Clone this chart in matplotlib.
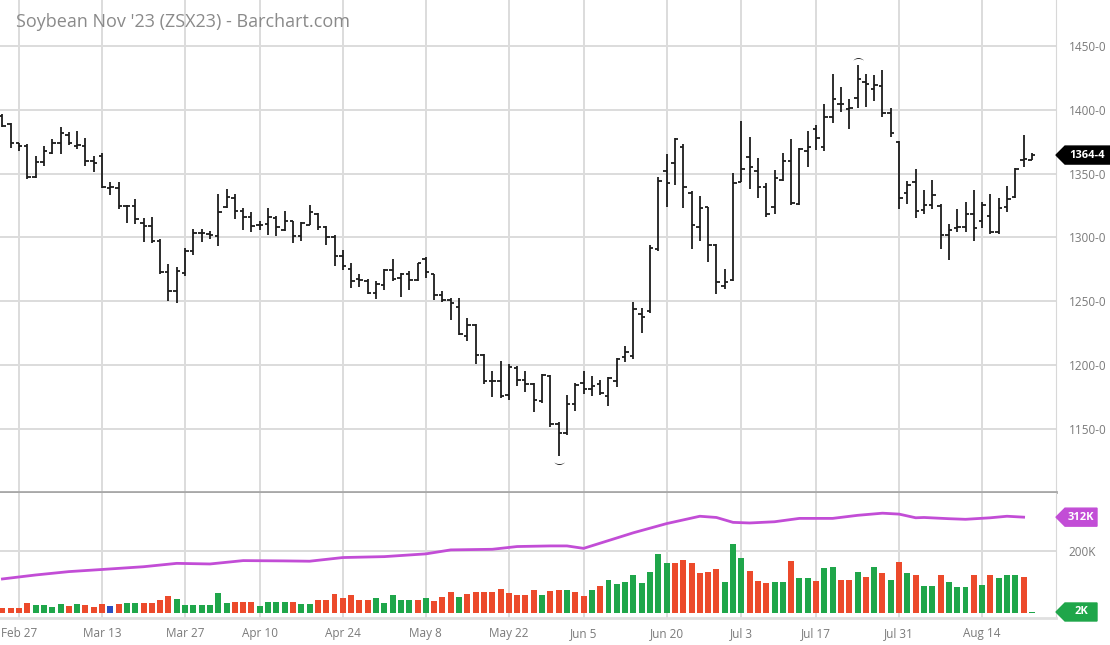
import matplotlib.pyplot as plt
from matplotlib.patches import Polygon
import pandas as pd
import numpy as np

plt.rcParams['font.family'] = ['Open Sans', 'DejaVu Sans']

# trading days, Feb 23 - Aug 22 2023 (exchange holidays removed)
holidays = ['2023-04-07', '2023-05-29', '2023-06-19', '2023-07-04']
days = pd.bdate_range('2023-02-23', '2023-08-22')
days = days[~days.isin(pd.to_datetime(holidays))]

tick_dates = ['2023-02-27', '2023-03-13', '2023-03-27', '2023-04-10', '2023-04-24', '2023-05-08',
              '2023-05-22', '2023-06-05', '2023-06-20', '2023-07-03', '2023-07-17', '2023-07-31',
              '2023-08-14']
tick_labels = ['Feb 27', 'Mar 13', 'Mar 27', 'Apr 10', 'Apr 24', 'May 8', 'May 22', 'Jun 5',
               'Jun 20', 'Jul 3', 'Jul 17', 'Jul 31', 'Aug 14']

opens = [1395.3, 1388.7, 1374.3, 1371.7, 1347.4, 1359.4, 1366.5, 1374.3, 1380.1, 1371.7,
         1371.7, 1360.0, 1363.9, 1339.0, 1339.0, 1324.6, 1324.6, 1311.5, 1308.9, 1297.1,
         1272.8, 1257.8, 1272.2, 1289.3, 1303.1, 1302.6, 1300.8, 1323.7, 1331.2, 1320.3,
         1315.6, 1309.4, 1310.4, 1315.1, 1306.0, 1312.5, 1300.8, 1309.9, 1318.2, 1307.8,
         1300.5, 1285.7, 1275.5, 1267.7, 1266.1, 1256.5, 1263.0, 1274.7, 1268.2, 1271.4,
         1266.4, 1283.0, 1271.6, 1255.2, 1250.8, 1245.6, 1222.7, 1231.0, 1207.6, 1187.5,
         1187.5, 1176.3, 1198.0, 1188.3, 1185.0, 1171.9, 1191.4, 1153.7, 1146.6, 1169.3,
         1186.2, 1181.5, 1184.9, 1175.8, 1187.5, 1206.0, 1207.0, 1240.0, 1242.0, 1291.0,
         1352.0, 1358.0, 1371.0, 1335.0, 1308.0, 1324.0, 1294.0, 1262.0, 1266.5, 1343.5,
         1363.3, 1352.3, 1339.7, 1323.6, 1344.7, 1360.0, 1326.0, 1368.0, 1384.7, 1370.6,
         1394.6, 1404.3, 1400.6, 1409.5, 1421.5, 1416.3, 1418.6, 1397.3, 1374.5, 1334.5,
         1343.7, 1321.7, 1325.5, 1324.7, 1302.0, 1307.1, 1308.5, 1318.5, 1312.9, 1317.0,
         1304.5, 1324.0, 1331.5, 1361.0, 1361.0]
highs = [1396.6, 1389.5, 1374.3, 1373.0, 1363.9, 1371.7, 1377.0, 1386.1, 1382.2, 1383.5,
         1377.5, 1363.9, 1366.0, 1343.4, 1343.4, 1325.1, 1329.8, 1315.4, 1316.2, 1298.9,
         1278.8, 1276.7, 1291.9, 1306.8, 1306.3, 1304.7, 1333.9, 1338.0, 1333.9, 1322.9,
         1319.8, 1312.5, 1322.9, 1316.4, 1320.8, 1313.0, 1312.0, 1325.0, 1319.0, 1308.6,
         1301.6, 1290.4, 1280.0, 1271.4, 1267.7, 1266.1, 1275.5, 1283.3, 1272.1, 1273.4,
         1280.0, 1285.0, 1271.6, 1257.8, 1252.6, 1252.6, 1237.0, 1231.8, 1208.3, 1195.3,
         1203.1, 1200.5, 1199.2, 1195.3, 1185.7, 1192.7, 1191.9, 1155.0, 1176.3, 1186.2,
         1195.3, 1191.4, 1188.3, 1190.9, 1205.7, 1215.0, 1249.0, 1245.0, 1294.0, 1347.0,
         1365.0, 1378.0, 1373.0, 1336.0, 1332.5, 1324.0, 1295.0, 1275.0, 1350.5, 1391.0,
         1379.0, 1362.0, 1343.0, 1353.0, 1366.0, 1377.0, 1370.0, 1383.6, 1388.0, 1404.5,
         1428.0, 1418.0, 1408.5, 1435.0, 1428.0, 1427.0, 1431.0, 1401.0, 1375.5, 1344.0,
         1353.6, 1337.0, 1345.0, 1326.0, 1310.5, 1322.0, 1328.0, 1337.0, 1328.0, 1334.0,
         1331.0, 1340.5, 1354.4, 1380.0, 1366.0]
lows = [1386.1, 1370.4, 1367.8, 1345.5, 1346.9, 1356.0, 1365.2, 1365.2, 1372.2, 1369.1,
        1356.0, 1351.3, 1339.0, 1333.0, 1322.5, 1311.5, 1310.2, 1296.3, 1295.8, 1271.7,
        1250.0, 1248.2, 1270.1, 1285.9, 1296.3, 1299.0, 1293.0, 1322.9, 1314.6, 1305.5,
        1304.2, 1306.0, 1302.1, 1300.8, 1304.7, 1295.6, 1297.4, 1309.4, 1306.0, 1293.8,
        1277.3, 1274.7, 1260.4, 1260.9, 1255.7, 1252.1, 1259.1, 1266.1, 1253.1, 1259.1,
        1265.6, 1268.0, 1250.8, 1249.2, 1235.2, 1223.2, 1218.8, 1200.5, 1185.0, 1175.3,
        1174.5, 1172.7, 1183.6, 1178.9, 1163.5, 1170.6, 1151.8, 1129.0, 1145.3, 1164.0,
        1177.1, 1175.8, 1176.6, 1167.5, 1183.0, 1202.6, 1205.0, 1225.0, 1241.0, 1289.0,
        1324.0, 1341.0, 1323.0, 1291.0, 1297.0, 1281.0, 1256.0, 1259.5, 1266.0, 1343.5,
        1338.0, 1331.0, 1316.0, 1318.0, 1344.0, 1325.0, 1325.0, 1355.0, 1368.5, 1368.0,
        1389.7, 1398.0, 1385.0, 1401.0, 1402.0, 1407.0, 1394.0, 1378.7, 1322.0, 1326.0,
        1315.0, 1318.0, 1322.0, 1291.0, 1282.0, 1304.0, 1304.0, 1297.0, 1307.0, 1302.7,
        1302.7, 1320.0, 1331.0, 1355.0, 1361.0]
closes = [1387.4, 1374.3, 1371.7, 1347.6, 1359.4, 1367.8, 1373.8, 1381.4, 1374.3, 1372.5,
          1360.0, 1358.6, 1339.8, 1339.8, 1324.6, 1324.6, 1314.1, 1308.9, 1297.1, 1272.8,
          1257.8, 1273.5, 1289.3, 1303.7, 1303.1, 1302.1, 1319.8, 1332.0, 1320.3, 1315.6,
          1308.6, 1309.9, 1315.6, 1307.8, 1313.0, 1301.3, 1311.2, 1319.8, 1308.1, 1300.5,
          1285.7, 1277.3, 1266.1, 1266.9, 1256.5, 1263.5, 1274.7, 1267.7, 1271.4, 1266.9,
          1280.0, 1272.7, 1255.2, 1250.8, 1248.7, 1224.0, 1231.0, 1207.6, 1187.5, 1187.5,
          1175.8, 1198.7, 1188.3, 1185.0, 1172.7, 1191.9, 1153.7, 1147.1, 1169.3, 1184.1,
          1181.0, 1183.6, 1178.4, 1190.1, 1205.0, 1210.4, 1244.0, 1238.0, 1292.0, 1344.0,
          1343.0, 1377.0, 1339.5, 1309.7, 1322.8, 1294.0, 1265.3, 1265.0, 1343.0, 1353.4,
          1355.0, 1339.3, 1318.7, 1346.7, 1360.0, 1327.0, 1369.0, 1370.6, 1377.7, 1394.6,
          1408.5, 1404.3, 1401.7, 1424.0, 1420.0, 1419.4, 1397.3, 1382.0, 1331.0, 1341.0,
          1321.0, 1325.0, 1333.2, 1301.9, 1305.8, 1308.0, 1318.0, 1307.0, 1325.4, 1304.5,
          1323.3, 1330.0, 1353.6, 1361.4, 1364.5]

# volume in thousands, colour code per bar (g up, r down, b unchanged)
volume = [16, 16, 14, 31, 24, 24, 19, 27, 21, 27, 25, 19, 27, 20, 27, 31, 33, 31, 30, 41,
          53, 46, 25, 26, 25, 25, 63, 30, 35, 35, 35, 20, 34, 36, 36, 34, 27, 29, 40, 41,
          60, 49, 58, 42, 42, 47, 31, 57, 42, 41, 41, 47, 38, 52, 66, 51, 60, 66, 68, 66,
          77, 64, 57, 57, 75, 58, 71, 74, 75, 66, 55, 75, 88, 106, 93, 99, 124, 97, 134, 192,
          161, 161, 172, 161, 131, 134, 143, 99, 224, 179, 137, 104, 98, 99, 101, 168, 113, 113, 104, 146,
          148, 107, 107, 132, 118, 148, 131, 107, 167, 128, 124, 86, 86, 124, 99, 85, 85, 123, 89, 123,
          113, 124, 123, 115, 2]
vol_dir = list('rrrrggggrg' 'rrrbrggrrr' 'rgggggggrr' 'rggggrggrr' 'rrrrrggggg'
               'rgrrrgrrrr' 'rrrrrgrrgr' 'rgrggggggg' 'grrrrrrggg' 'rrrggrggrg'
               'grrgrgrgrg' 'rggrgggrgr' 'gggrg')

# open interest line (bar number, thousands)
oi_bar = [0, 4, 8, 12, 17, 21, 25, 29, 34, 37, 41, 46, 51, 54, 59, 62, 66, 68, 70, 72,
          76, 80, 84, 86, 88, 90, 93, 96, 100, 103, 106, 108, 110, 111, 114, 116, 119, 121, 123]
oi_vals = [110, 123, 134, 141, 150, 161, 159, 170, 169, 168, 180, 183, 192, 205, 207, 216, 218, 218, 210, 227,
           261, 291, 315, 311, 295, 293, 297, 308, 308, 318, 325, 322, 310, 311, 307, 305, 310, 315, 312]

W, H = 1110, 645
fig = plt.figure(figsize=(W / 100, H / 100), dpi=100)
ax = fig.add_axes([0, (H - 492) / H, 1056 / W, 492 / H])
axv = fig.add_axes([0, (H - 617.5) / H, 1056 / W, 124.5 / H])

x = np.arange(len(days))
ticks = [days.get_loc(pd.Timestamp(d)) for d in tick_dates]
grid_c = '#dcdcdc'
txt_c = '#7a7a7a'

# price pane
bar_c = '#1c1c1c'
ax.vlines(x, lows, highs, color=bar_c, lw=1.3)
ax.hlines(opens, x - 0.42, x, color=bar_c, lw=1.3)
ax.hlines(closes, x, x + 0.42, color=bar_c, lw=1.3)
hi_i = int(np.argmax(highs))
lo_i = int(np.argmin(lows))
ax.annotate(r'$\frown$', (hi_i, highs[hi_i]), xytext=(0, 5), textcoords='offset points',
            ha='center', va='center', fontsize=8, color=bar_c)
ax.annotate(r'$\smile$', (lo_i, lows[lo_i]), xytext=(0, -5), textcoords='offset points',
            ha='center', va='center', fontsize=8, color=bar_c)

ax.set_xlim(-0.29, 126.9)
ax.set_ylim(1100.5, 1486)
ax.set_xticks(ticks)
ax.set_xticklabels([])
ax.set_yticks(range(1150, 1451, 50))
ax.set_yticklabels([f'{v}-0' for v in range(1150, 1451, 50)])
ax.yaxis.tick_right()
ax.tick_params(length=0, labelsize=8.5, labelcolor=txt_c, pad=9)
ax.grid(True, color=grid_c, lw=1.4)
ax.set_axisbelow(True)
for s in ['top', 'left']:
    ax.spines[s].set_visible(False)
ax.spines['right'].set_color('#d8d8d8')
ax.spines['bottom'].set_color('#a8a8a8')
ax.spines['bottom'].set_linewidth(2)

# volume pane
cmap = {'g': '#1fa64a', 'r': '#ec4a2b', 'b': '#2a4fc2'}
axv.bar(x, volume, width=0.72, color=[cmap[c] for c in vol_dir])
axv.plot(oi_bar, oi_vals, color='#c24dd6', lw=2)
axv.set_xlim(-0.29, 126.9)
axv.set_ylim(-16, 391)
axv.set_xticks(ticks)
axv.set_xticklabels(tick_labels)
axv.set_yticks([200])
axv.set_yticklabels(['200K'])
axv.yaxis.tick_right()
axv.tick_params(length=0, labelsize=8.5, labelcolor=txt_c, pad=9)
axv.tick_params(axis='x', pad=7)
axv.grid(True, color=grid_c, lw=1.4)
axv.set_axisbelow(True)
for s in ['top', 'left']:
    axv.spines[s].set_visible(False)
axv.spines['right'].set_color('#d8d8d8')
axv.spines['bottom'].set_color('#e0e0e0')
axv.spines['bottom'].set_linewidth(2)


def tag(axis, val, text, color, right):
    yp = axis.transData.transform((0, val))[1]
    pts = [(1056, yp), (1065, yp + 9), (right, yp + 9), (right, yp - 9), (1065, yp - 9)]
    pts = [(px / W, py / H) for px, py in pts]
    fig.patches.append(Polygon(pts, closed=True, color=color, transform=fig.transFigure))
    fig.text((1065 + right) / 2 / W, yp / H, text, color='white', fontsize=8, fontweight='bold',
             ha='center', va='center')


tag(ax, closes[-1], '1364-4', '#000000', 1110)
tag(axv, oi_vals[-1], '312K', '#c24dd6', 1097)
tag(axv, volume[-1], '2K', '#1fa64a', 1097)

fig.text(16 / W, 1 - 22 / H, "Soybean Nov '23 (ZSX23) - Barchart.com", color='#8a8a8a',
         fontsize=13, va='center', ha='left')

fig.savefig('out.png', dpi=100)
